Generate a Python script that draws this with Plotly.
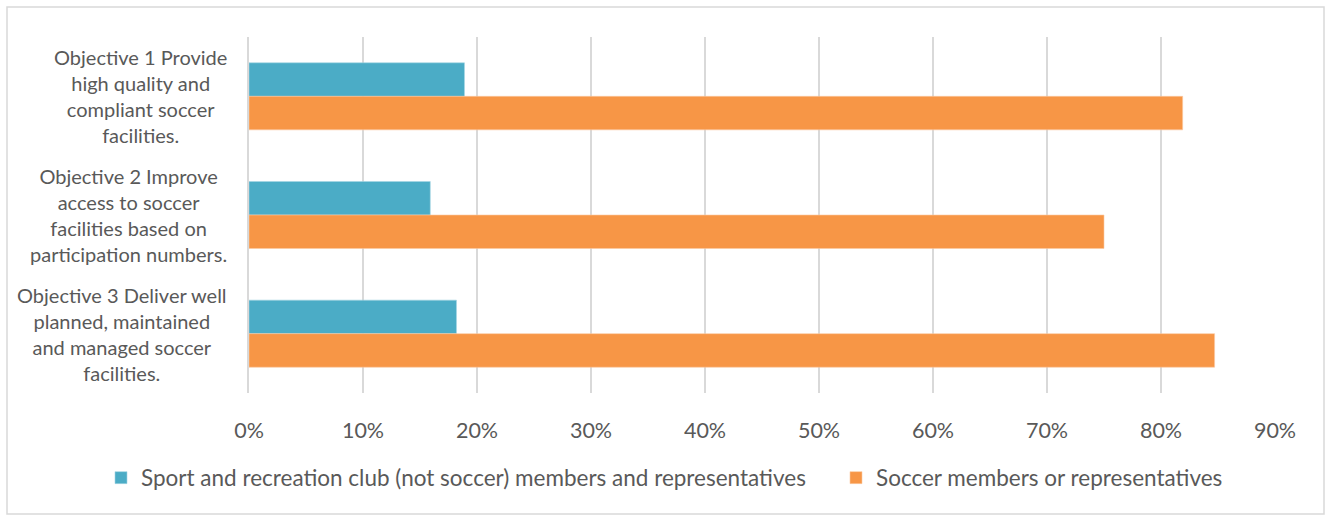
import plotly.graph_objects as go

categories = [
    "Objective 1 Provide<br>high quality and<br>compliant soccer<br>facilities.",
    "Objective 2 Improve<br>access to soccer<br>facilities based on<br>participation numbers.",
    "Objective 3 Deliver well<br>planned, maintained<br>and managed soccer<br>facilities.",
]
series_names = [
    "Sport and recreation club (not soccer) members and representatives",
    "Soccer members or representatives",
]
sport_rec = [0.189, 0.159, 0.182]
soccer = [0.819, 0.750, 0.847]
tick_vals = [0, 0.1, 0.2, 0.3, 0.4, 0.5, 0.6, 0.7, 0.8, 0.9]

W, H = 1331, 516
L, R, T, B = 249, 56, 37, 123
FONT = "Lato"
GRAY = "#595959"

fig = go.Figure()
fig.add_trace(go.Bar(y=categories, x=sport_rec, name=series_names[0], orientation="h",
                     legend="legend", showlegend=True,
                     marker=dict(color="#4bacc6", line=dict(color="#a5d5e2", width=0.6))))
fig.add_trace(go.Bar(y=categories, x=soccer, name=series_names[1], orientation="h",
                     legend="legend2", showlegend=True,
                     marker=dict(color="#f79646", line=dict(color="#fbcaa2", width=0.6))))

pw = W - L - R
ph = H - T - B
annotations = []
for c in categories:
    annotations.append(dict(x=0, y=c, xref="paper", yref="y", text=c, showarrow=False,
                            xanchor="right", yanchor="middle", align="center", xshift=-20,
                            font=dict(family=FONT, size=20, color=GRAY)))

leg_common = dict(orientation="h", xref="container", yref="container", y=1 - 478 / H,
                  xanchor="left", yanchor="middle", bgcolor="rgba(0,0,0,0)",
                  font=dict(family=FONT, size=22.5, color=GRAY), itemwidth=30, visible=True)

fig.update_layout(
    width=W, height=H,
    showlegend=True,
    margin=dict(l=L, r=R, t=T, b=B),
    paper_bgcolor="white", plot_bgcolor="white",
    barmode="group", bargap=0.435, bargroupgap=0,
    font=dict(family=FONT, size=20, color=GRAY),
    xaxis=dict(range=[0, 0.9], tickvals=tick_vals, tickformat=".0%",
               showgrid=True, gridcolor="#d9d9d9", gridwidth=1.5,
               zeroline=False, showline=False, ticks="", ticklabelstandoff=22,
               tickfont=dict(family=FONT, size=21.5, color=GRAY)),
    yaxis=dict(autorange="reversed", showticklabels=False, showgrid=False,
               showline=True, linecolor="#d9d9d9", linewidth=1.5, zeroline=False),
    legend=dict(leg_common, x=(121 - 20) / W),
    legend2=dict(leg_common, x=(856 - 20) / W),
    annotations=annotations,
    shapes=[dict(type="rect", xref="paper", yref="paper",
                 x0=(7 - L) / pw, x1=(1324 - L) / pw,
                 y0=(H - B - 514) / ph, y1=(H - B - 7) / ph,
                 line=dict(color="#d9d9d9", width=1.5), fillcolor="rgba(0,0,0,0)", layer="below")],
)
fig.write_html("out.html", config={"displayModeBar": False},
               post_script="document.body.style.margin='0';")
